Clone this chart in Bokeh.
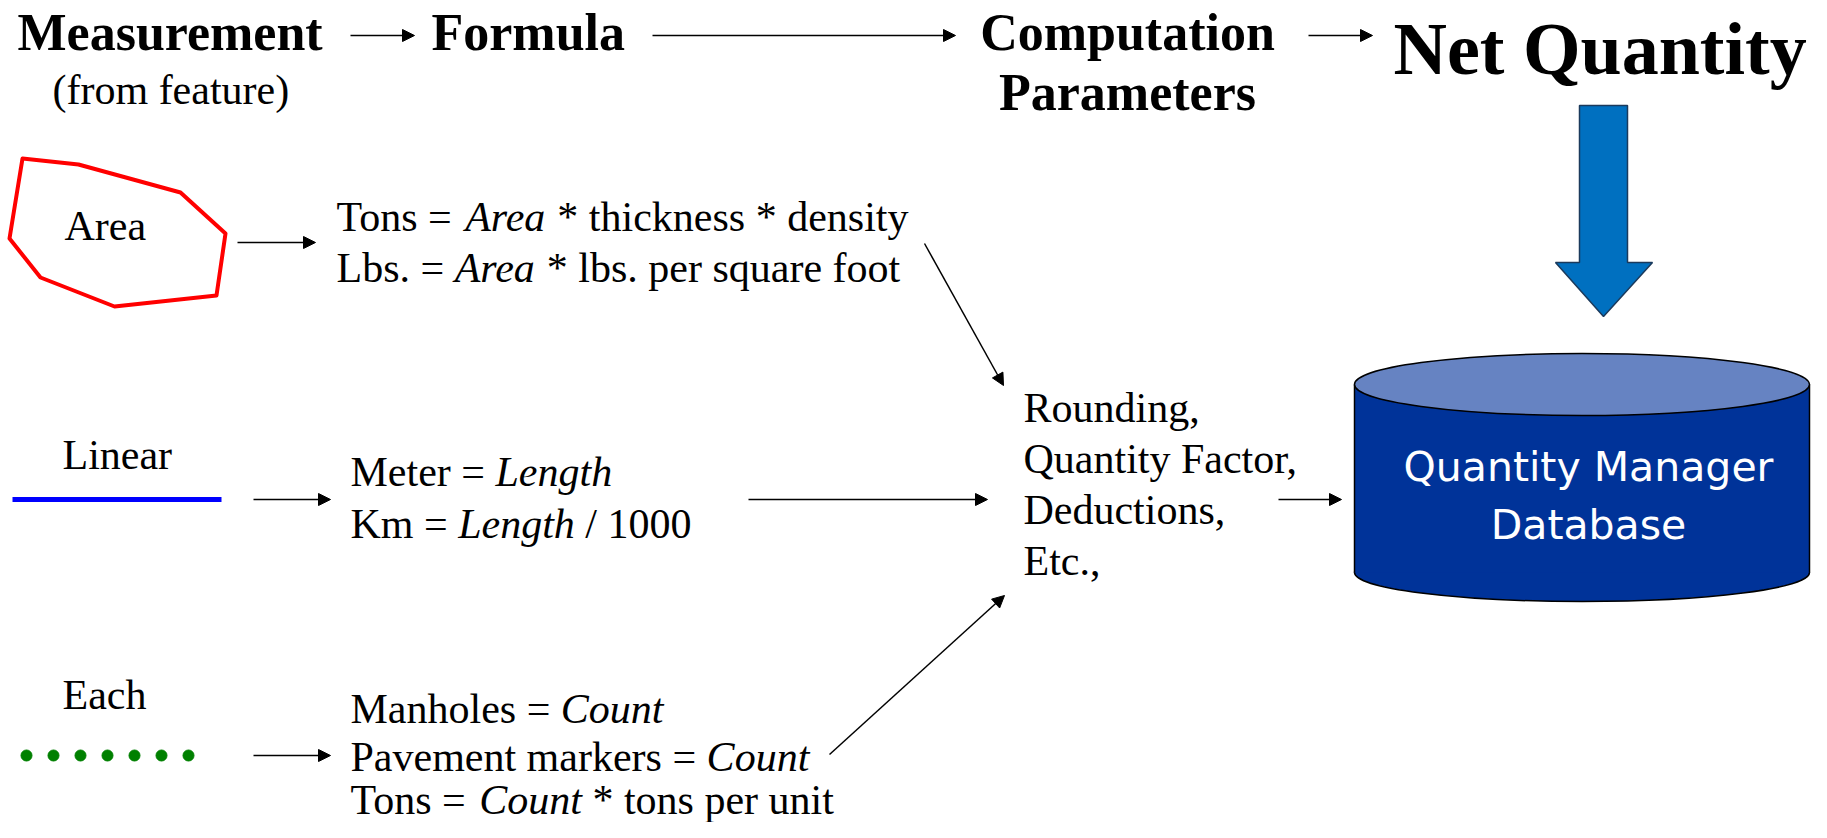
from bokeh.plotting import figure
from bokeh.models import Range1d, Arrow, NormalHead, ColumnDataSource
from bokeh.core.properties import value
from bokeh.embed import file_html
from bokeh.resources import INLINE

# ---------------- data ----------------
header_titles = ["Measurement", "Formula", "Computation", "Parameters", "Net Quantity"]
header_sub = "(from feature)"
measure_labels = ["Area", "Linear", "Each"]
area_formulas = [[("Tons = ", 0), ("Area", 1), (" * thickness * density", 0)],
                 [("Lbs. = ", 0), ("Area", 1), (" * lbs. per square foot", 0)]]
linear_formulas = [[("Meter = ", 0), ("Length", 1)],
                   [("Km = ", 0), ("Length", 1), (" / 1000", 0)]]
each_formulas = [[("Manholes = ", 0), ("Count", 1)],
                 [("Pavement markers = ", 0), ("Count", 1)],
                 [("Tons = ", 0), ("Count", 1), (" * tons per unit", 0)]]
param_lines = ["Rounding,", "Quantity Factor,", "Deductions,", "Etc.,"]
db_lines = ["Quantity Manager", "Database"]
dot_count = 7

# -------------- layout helpers --------------
W, H = 1811, 822
SERIF = value("Liberation Serif")
FS = 42
KB = 0.31  # baseline correction (fraction of font size)

REG = {' ': .25, '(': .333, ')': .333, '*': .5, ',': .25, '.': .25, '/': .278, '0': .5, '1': .5,
       '=': .564, 'A': .722, 'C': .667, 'D': .722, 'E': .611, 'F': .556, 'K': .722, 'L': .611,
       'M': .889, 'P': .556, 'Q': .722, 'R': .667, 'T': .611,
       'a': .444, 'b': .5, 'c': .444, 'd': .5, 'e': .444, 'f': .333, 'g': .5, 'h': .5, 'i': .278,
       'k': .5, 'l': .278, 'm': .778, 'n': .5, 'o': .5, 'p': .5, 'q': .5, 'r': .333, 's': .389,
       't': .278, 'u': .5, 'v': .5, 'w': .722, 'y': .5}
ITA = {'A': .611, 'C': .667, 'L': .556, 'a': .5, 'e': .444, 'g': .5, 'h': .5, 'n': .5, 'o': .5,
       'r': .389, 't': .278, 'u': .5}


def tw(s, italic):
    tab = ITA if italic else REG
    return sum(tab.get(c, REG.get(c, .5)) for c in s) * FS


p = figure(width=W, height=H, output_backend="svg", toolbar_location=None,
           x_range=Range1d(0, W), y_range=Range1d(H, 0),
           min_border=0, outline_line_color=None, background_fill_color="white",
           border_fill_color="white")
p.axis.visible = False
p.grid.visible = False


def txt(x, base, s, size=FS, style="normal", align="left", color="black", font=SERIF):
    p.text(x=[x], y=[base - KB * size], text=[s], text_font=font,
           text_font_size=value(f"{size}px"), text_font_style=style, text_align=align,
           text_baseline="alphabetic", text_color=color)


def rich(x, base, segs):
    for s, it in segs:
        lead = len(s) - len(s.lstrip(" "))
        x0 = x + tw(" " * lead, False)
        core = s.strip(" ")
        if core:
            txt(x0, base, core, style="italic" if it else "normal")
        x += tw(s, it)


# ---------------- header ----------------
txt(17, 48, header_titles[0], size=52, style="bold")
txt(431, 48, header_titles[1], size=52, style="bold")
txt(1127, 48, header_titles[2], size=52, style="bold", align="center")
txt(1127, 108, header_titles[3], size=52, style="bold", align="center")
txt(1393, 71, header_titles[4], size=74, style="bold")
txt(52, 103, header_sub, size=42)

# ---------------- arrows ----------------
arrows = ColumnDataSource(dict(
    x0=[350, 652, 1308, 237, 253, 253, 748, 924, 829, 1278],
    y0=[35, 35, 35, 242, 499, 755, 499, 243, 754, 499],
    x1=[414, 955, 1372, 315, 330, 330, 987, 1003, 1004, 1341],
    y1=[35, 35, 35, 242, 499, 755, 499, 385, 595, 499]))
p.add_layout(Arrow(end=NormalHead(size=12, fill_color="black", line_color="black", line_width=1),
                   x_start="x0", y_start="y0", x_end="x1", y_end="y1", source=arrows,
                   line_color="black", line_width=1.5))

# ---------------- measurement shapes ----------------
poly_x = [22, 78, 180, 225, 216, 114, 40, 9]
poly_y = [158, 164, 192, 233, 295, 306, 277, 238]
p.patch(poly_x, poly_y, fill_color=None, line_color="#FF0000", line_width=4, line_join="round")
txt(64, 239, measure_labels[0])

p.line([12, 221], [499, 499], line_color="#0000FF", line_width=5)
txt(62, 468, measure_labels[1])

p.scatter([26 + 27 * i for i in range(dot_count)], [755] * dot_count, size=11,
          fill_color="#008000", line_color="#008000")
txt(62, 708, measure_labels[2])

# ---------------- formulas ----------------
for i, segs in enumerate(area_formulas):
    rich(336, 230 + 51 * i, segs)
for i, segs in enumerate(linear_formulas):
    rich(350, 485 + 52 * i, segs)
for i, (segs, base) in enumerate(zip(each_formulas, [722, 770, 813])):
    rich(350, base, segs)

for i, s in enumerate(param_lines):
    txt(1023, 421 + 51 * i, s)

# ---------------- blue down arrow ----------------
bx = [1579, 1627, 1627, 1652, 1603, 1555, 1579]
by = [105, 105, 262, 262, 316, 262, 262]
p.patch(bx, by, fill_color="#0070C0", line_color="#1B3A5C", line_width=1.5)

# ---------------- cylinder ----------------
cx0, cx1 = 1354, 1809
cxm = (cx0 + cx1) / 2
cw = cx1 - cx0
ytop, ybot, eh = 384, 572, 62
p.ellipse(x=[cxm], y=[ybot], width=[cw], height=[eh - 4], fill_color="#003399",
          line_color="black", line_width=1.5)
p.quad(left=[cx0], right=[cx1], top=[ytop], bottom=[ybot], fill_color="#003399",
       line_color=None)
p.segment(x0=[cx0, cx1], y0=[ytop, ytop], x1=[cx0, cx1], y1=[ybot, ybot],
          line_color="black", line_width=1.5)
p.ellipse(x=[cxm], y=[ytop], width=[cw], height=[eh], fill_color="#6683C2",
          line_color="black", line_width=1.5)
txt(1588, 479, db_lines[0], size=41, align="center", color="white", font=value("DejaVu Sans"))
txt(1588, 537, db_lines[1], size=41, align="center", color="white", font=value("DejaVu Sans"))

open("out.html", "w").write(file_html(p, INLINE))
